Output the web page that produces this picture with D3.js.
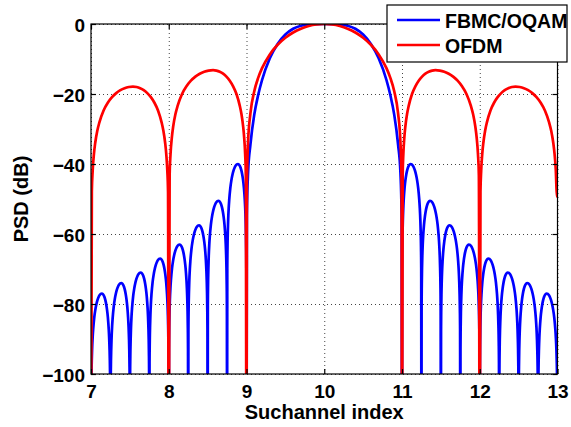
<!DOCTYPE html>
<html>
<head>
<meta charset="utf-8">
<script src="https://cdn.jsdelivr.net/npm/d3@7"></script>
<style>
  body { margin: 0; background: #fff; }
  text { font-family: "Liberation Sans", Arial, sans-serif; font-weight: bold; }
</style>
</head>
<body>
<script>
// PSD of OFDM vs FBMC/OQAM

const xTicks = [7, 8, 9, 10, 11, 12, 13];
const yTicks = [-100, -80, -60, -40, -20, 0];
const seriesNames = ["FBMC/OQAM", "OFDM"];

// main lobe around subchannel 10 (offset, dB), mirrored on both sides
const mainOffsets = [0, 0.1, 0.2, 0.3, 0.4, 0.5, 0.6, 0.7, 0.8, 0.85, 0.9, 0.95, 0.98, 0.995];
const fbmcMainDb  = [0, -0.05, -0.17, -0.48, -1.36, -3.01, -5.7, -9.8, -16.0, -20.3, -25.9, -34.5, -42.5, -54.5];
const ofdmMainDb  = [0, -0.14, -0.58, -1.33, -2.42, -3.92, -5.94, -8.69, -12.62, -15.4, -19.2, -25.6, -33.8, -46];

// side lobes: left null, peak position, peak level (lobe width given below)
const ofdmSideStart = [7, 8, 11, 12];
const ofdmSidePeakX = [7.54, 8.57, 11.43, 12.46];
const ofdmSidePeakDb = [-17.9, -13.2, -13.2, -17.9];
const ofdmSideWidth = 1;

const fbmcSideStart = [7, 7.25, 7.5, 7.75, 8, 8.25, 8.5, 8.75, 11, 11.25, 11.5, 11.75, 12, 12.25, 12.5, 12.75];
const fbmcSidePeakX = [7.14, 7.39, 7.64, 7.89, 8.14, 8.39, 8.64, 8.89, 11.11, 11.36, 11.61, 11.86, 12.11, 12.36, 12.61, 12.86];
const fbmcSidePeakDb = [-77, -74, -71, -67, -63, -57.5, -50.5, -40, -40, -50.5, -57.5, -63, -67, -71, -74, -77];
const fbmcSideWidth = 0.25;

// shape of one side lobe: position inside the half lobe (0 = null, 0.5 = peak) and dB below peak
const lobeT  = [0.01, 0.02, 0.035, 0.05, 0.075, 0.1, 0.15, 0.2, 0.25, 0.3, 0.35, 0.4, 0.45, 0.5];
const lobeDb = [-30, -24, -19.2, -16.1, -12.6, -10.2, -6.8, -4.6, -3.0, -1.84, -1.0, -0.44, -0.11, 0];

const nullDb = -140;      // nulls drop off the bottom
const fbmcEndDb = -96;    // last sample at 13
const ofdmEndDb = -49.5;

function buildSeries(mainDb, starts, peaksX, peaksDb, w, endDb) {
  let pts = [];
  starts.forEach(function(a, i) {
    const b = a + w, px = peaksX[i], pk = peaksDb[i];
    pts.push([a, nullDb], [b, nullDb]);
    lobeT.forEach(function(t, j) {
      pts.push([a + (px - a) * t / 0.5, pk + lobeDb[j]]);
      if (t < 0.5) pts.push([b - (b - px) * t / 0.5, pk + lobeDb[j]]);
    });
  });
  mainOffsets.forEach(function(o, j) {
    pts.push([10 - o, mainDb[j]]);
    if (o > 0) pts.push([10 + o, mainDb[j]]);
  });
  pts.push([9, nullDb], [11, nullDb]);
  pts.sort(function(p, q) { return p[0] - q[0]; });
  pts = pts.filter(function(p, i) { return i === 0 || Math.abs(p[0] - pts[i - 1][0]) > 1e-9; });
  pts[pts.length - 1][1] = endDb;
  return pts;
}

const fbmc = buildSeries(fbmcMainDb, fbmcSideStart, fbmcSidePeakX, fbmcSidePeakDb, fbmcSideWidth, fbmcEndDb);
const ofdm = buildSeries(ofdmMainDb, ofdmSideStart, ofdmSidePeakX, ofdmSidePeakDb, ofdmSideWidth, ofdmEndDb);

const W = 571, H = 427;
const margin = {left: 91, right: 13.5, top: 24, bottom: 53};
const iw = W - margin.left - margin.right, ih = H - margin.top - margin.bottom;

const svg = d3.select("body").append("svg").attr("width", W).attr("height", H);
const g = svg.append("g").attr("transform", "translate(" + margin.left + "," + margin.top + ")");

const x = d3.scaleLinear().domain([7, 13]).range([0, iw]);
const y = d3.scaleLinear().domain([-100, 0]).range([ih, 0]);

// dotted grid
g.append("g").attr("class", "grid")
    .attr("transform", "translate(0," + ih + ")")
    .call(d3.axisBottom(x).tickValues(xTicks).tickSize(-ih).tickFormat(""));
g.append("g").attr("class", "grid")
    .call(d3.axisLeft(y).tickValues(yTicks).tickSize(-iw).tickFormat(""));
g.selectAll(".grid .domain").remove();
g.selectAll(".grid line").attr("stroke", "#444").attr("stroke-width", 1).attr("stroke-dasharray", "1,3");

g.append("clipPath").attr("id", "clip")
    .append("rect").attr("width", iw).attr("height", ih);

const line = d3.line()
    .x(function(d) { return x(d[0]); })
    .y(function(d) { return y(d[1]); })
    .curve(d3.curveMonotoneX);

const colors = ["#0000ff", "#ff0000"];
[fbmc, ofdm].forEach(function(s, i) {
  g.append("path").datum(s)
      .attr("clip-path", "url(#clip)")
      .attr("fill", "none")
      .attr("stroke", colors[i])
      .attr("stroke-width", 2.7)
      .attr("stroke-linejoin", "round")
      .attr("d", line);
});

// axes with inward ticks, on all four sides
const xAx = g.append("g").attr("transform", "translate(0," + ih + ")")
    .call(d3.axisBottom(x).tickValues(xTicks).tickSize(-5).tickPadding(11).tickFormat(d3.format("d")));
const yAx = g.append("g")
    .call(d3.axisLeft(y).tickValues(yTicks).tickSize(-5).tickPadding(6).tickFormat(d3.format("d")));
g.append("g").call(d3.axisTop(x).tickValues(xTicks).tickSize(-5).tickFormat(""));
g.append("g").attr("transform", "translate(" + iw + ",0)")
    .call(d3.axisRight(y).tickValues(yTicks).tickSize(-5).tickFormat(""));
g.selectAll(".domain").remove();
g.selectAll(".tick line").filter(function() { return this.parentNode.parentNode.getAttribute("class") !== "grid"; })
    .attr("stroke", "#000").attr("stroke-width", 1.2);
xAx.selectAll("text").attr("font-size", 19).attr("fill", "#000");
yAx.selectAll("text").attr("font-size", 19).attr("fill", "#000").attr("dy", "0.4em");

g.append("rect").attr("width", iw).attr("height", ih)
    .attr("fill", "none").attr("stroke", "#000").attr("stroke-width", 1.2);

svg.append("text")
    .attr("x", margin.left + iw / 2).attr("y", 419)
    .attr("text-anchor", "middle").attr("font-size", 20)
    .text("Suchannel index");

svg.append("text")
    .attr("transform", "translate(28," + (margin.top + ih / 2) + ") rotate(-90)")
    .attr("text-anchor", "middle").attr("font-size", 20)
    .text("PSD (dB)");

// legend
const lg = svg.append("g");
lg.append("rect").attr("x", 387).attr("y", 5).attr("width", 180).attr("height", 57)
    .attr("fill", "#fff").attr("stroke", "#000").attr("stroke-width", 1.2);
seriesNames.forEach(function(name, i) {
  const ly = 20 + i * 25;
  lg.append("line").attr("x1", 397).attr("x2", 440).attr("y1", ly).attr("y2", ly)
      .attr("stroke", colors[i]).attr("stroke-width", 2.7);
  lg.append("text").attr("x", 445).attr("y", ly + 8)
      .attr("font-size", 19.5).text(name);
});
</script>
</body>
</html>
